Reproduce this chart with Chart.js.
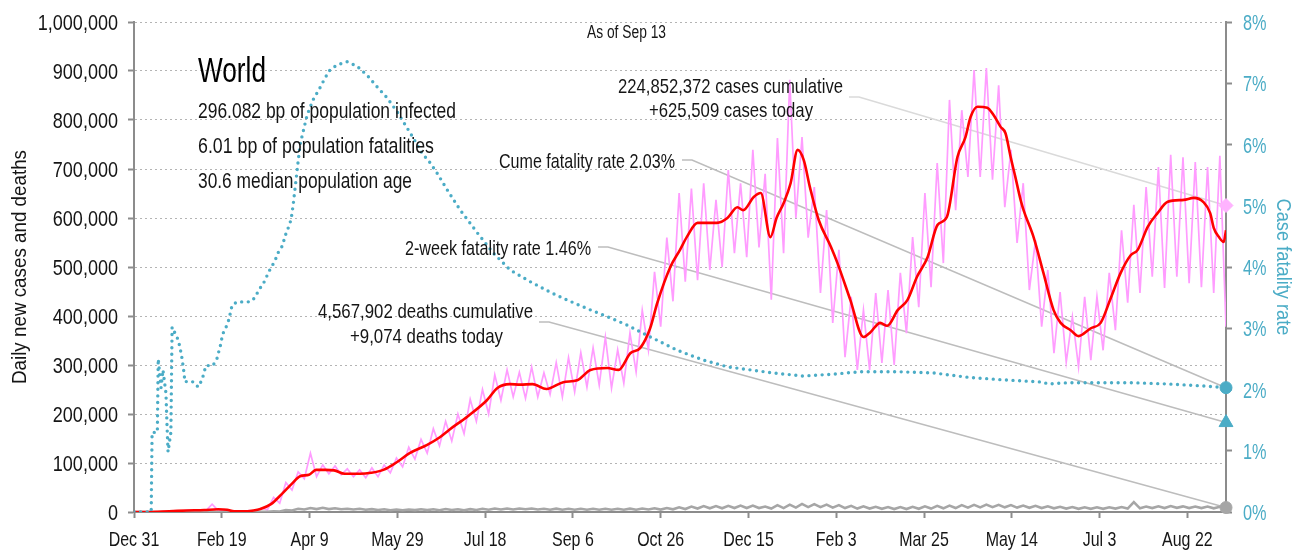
<!DOCTYPE html>
<html>
<head>
<meta charset="utf-8">
<script src="https://cdn.jsdelivr.net/npm/chart.js@4.4.1/dist/chart.umd.min.js"></script>
<style>
  html, body { margin: 0; padding: 0; background: #fff; }
  canvas { display: block; }
</style>
</head>
<body>
<canvas id="c" width="1299" height="550"></canvas>
<script>
// x axis = days since Dec 31, 2019; case/death values in thousands
const xTickDays = [0, 50, 100, 150, 200, 250, 300, 350, 400, 450, 500, 550, 600];
const xTickLabels = ['Dec 31', 'Feb 19', 'Apr 9', 'May 29', 'Jul 18', 'Sep 6', 'Oct 26',
  'Dec 15', 'Feb 3', 'Mar 25', 'May 14', 'Jul 3', 'Aug 22'];
const lastDay = 622;

// daily new cases: weekly high (day 7k+2.5) and low (day 7k+6)
const casesHigh = [0, 0, 1, 2.5, 3.5, 4, 16, 5, 2, 3, 8, 30, 60, 82, 120, 96, 94, 88, 86, 90,
  96, 110, 132, 148, 170, 185, 200, 230, 250, 280, 290, 285, 296, 284, 305, 315, 325, 335, 357, 331,
  365, 412, 490, 560, 651, 660, 671, 637, 698, 671, 739, 690, 763, 882, 765, 663, 616, 535, 439, 412,
  447, 453, 488, 561, 651, 712, 841, 820, 902, 906, 871, 739, 671, 555, 494, 449, 398, 439, 439, 488,
  575, 627, 663, 704, 729, 724, 714, 704, 727];
const casesLow = [0, 0, 0.5, 1.8, 2.8, 3, 3, 2.5, 1, 1.5, 4.5, 18, 45, 68, 72, 78, 76, 72, 70, 72,
  80, 92, 108, 120, 135, 145, 160, 185, 200, 228, 235, 232, 235, 240, 235, 245, 255, 259, 253, 263,
  286, 331, 378, 430, 470, 473, 494, 500, 528, 520, 540, 433, 528, 600, 560, 447, 386, 316, 290, 290,
  304, 300, 365, 418, 459, 508, 616, 684, 684, 678, 622, 549, 453, 378, 324, 306, 296, 310, 330, 371,
  427, 447, 480, 457, 480, 467, 459, 447, 378];

// 7-day average of new cases
const avgDays = [0, 7, 20, 30, 40, 48, 53, 57, 62, 68, 72, 78, 84, 90, 94.6, 99.7, 103.7, 108.9, 114, 120,
  128.8, 135, 142, 149, 157, 167, 174, 180, 190, 201, 207, 214, 220, 227, 235, 244.5, 252.5, 260, 269.6, 276,
  282.7, 288.4, 294, 298, 305.5, 311, 315, 321, 332, 338, 343.7, 347, 353, 357, 362.5, 366, 370, 374, 378, 381.5,
  385, 390, 397, 400.7, 408, 415.5, 419.5, 425, 429, 435, 440.6, 446, 452, 457.7, 463, 469, 473.6, 476.5, 480.5, 486,
  489.6, 493.6, 496.4, 499.3, 502, 505, 506.7, 512.4, 518, 523.8, 527.8, 533.5, 538, 545, 550.6, 556, 562, 567.7, 571.7, 577.4,
  583, 588.8, 598, 603.6, 609, 613, 615, 618, 620.7, 622];
const avgCases = [0, 0, 1.5, 3, 4, 5.5, 4.5, 1.5, 1.2, 3, 6, 16, 36, 58, 73, 76, 86, 86, 85, 78,
  78, 80, 86, 100, 120, 137, 152, 169, 195, 228, 253, 261, 260, 261, 251, 265, 269, 290, 294, 290,
  324, 335, 375, 426, 500, 535, 562, 590, 590, 600, 622, 616, 643, 651, 561, 600, 630, 671, 739, 718,
  663, 596, 541, 508, 433, 357, 367, 386, 380, 412, 433, 480, 520, 586, 602, 724, 765, 806, 827, 825,
  810, 786, 773, 725, 684, 637, 616, 561, 488, 412, 386, 371, 359, 375, 386, 433, 488, 524, 535, 582,
  610, 633, 637, 641, 633, 610, 580, 561, 551, 575];

// daily deaths: weekly high (day 7k+2.5) and low (day 7k+6)
const deathsHigh = [0, 0, 0.05, 0.05, 0.1, 0.1, 0.25, 0.15, 0.1, 0.2, 0.5, 1.5, 4, 6.5, 8, 8.5, 7.5, 6.5, 6.5, 5.8,
  5.5, 5, 5.2, 5.5, 5.5, 6, 5.5, 5.8, 6.5, 7, 7, 7, 7, 6.5, 6.8, 6.5, 6.5, 6.5, 6.5, 6.5,
  6.8, 7, 7.5, 8, 9.5, 11, 12, 12, 12.5, 13, 13, 11, 14, 15, 16.5, 16, 15, 14, 12.5, 11.5,
  10.5, 10, 10, 10.5, 11.5, 12.5, 13, 14, 14.5, 15, 14.5, 14, 13, 12.5, 11.5, 10.5, 10, 9.5, 9.5, 9.5,
  10, 20, 11, 11.5, 12, 11.5, 11, 11, 10.5];
const deathsLow = [0, 0, 0, 0.05, 0.05, 0.08, 0.1, 0.1, 0.05, 0.1, 0.3, 1, 3, 5, 6, 6, 5.5, 5, 4.5, 4,
  3.5, 3.5, 3.8, 3.8, 3.6, 4, 3.5, 4, 4.5, 5, 5, 5.5, 5.2, 4.5, 4.5, 4.5, 4.5, 4.5, 4.5, 4.5,
  4.5, 5, 5, 5.5, 6, 7, 7.5, 7.5, 8, 8, 8, 7, 8, 9, 10, 10, 9, 8, 7, 7,
  6.5, 6, 6, 6.5, 7, 7.5, 8, 9, 9.5, 10, 9.5, 9, 8.5, 8, 7.5, 7, 6.5, 6.5, 6.5, 7,
  7, 7.5, 8, 8, 8.5, 8, 8, 7.5, 9.074];

// case fatality rate, %
const cfrDays = [0, 9.8, 10.3, 13.3, 13.8, 15.4, 16.5, 18.2, 18.8, 19.4, 21, 21.7, 23.4, 25, 26.2, 27.4, 28.5, 29, 30.8, 34.2,
  36.5, 38.8, 39.9, 41, 42.7, 45, 47.3, 48.4, 49.6, 50.2, 51.3, 53, 54.1, 55.9, 58.7, 62.1, 65, 67.3, 69.5, 71.2,
  73, 74.7, 76.9, 78.7, 80.4, 82, 84.4, 86.6, 88.3, 89.5, 90.6, 92, 94.6, 98.6, 102, 106, 108.9, 111.7, 115.7, 121.4,
  127, 132.8, 138.5, 144.2, 150, 154.5, 159, 164, 168.7, 172.7, 178.4, 185.8, 195.5, 204.6, 214.3, 225.7, 237, 246.8, 259.9, 271.3,
  281, 294, 309.5, 324.3, 338, 351, 364, 381, 398, 413.8, 434.9, 455.4, 474.8, 493.6, 518, 520.4, 531.8, 550.6, 569.4, 588.8,
  607.6, 622];
const cfrRates = [0, 0, 1.3, 1.3, 2.5, 2.03, 2.32, 1.94, 1.42, 0.98, 1.3, 3.02, 2.92, 2.82, 2.69, 2.5, 2.27, 2.12, 2.14, 2.12,
  2.04, 2.16, 2.28, 2.39, 2.39, 2.39, 2.51, 2.63, 2.76, 2.87, 2.96, 3.05, 3.15, 3.38, 3.43, 3.43, 3.43, 3.45, 3.53, 3.64,
  3.69, 3.79, 3.93, 4.02, 4.11, 4.23, 4.34, 4.55, 4.67, 4.78, 5.0, 5.35, 6.0, 6.48, 6.73, 6.93, 7.09, 7.22, 7.30, 7.35,
  7.28, 7.13, 6.94, 6.76, 6.53, 6.32, 6.11, 5.86, 5.70, 5.53, 5.26, 4.93, 4.56, 4.23, 3.95, 3.76, 3.59, 3.46, 3.30, 3.17,
  3.05, 2.86, 2.64, 2.48, 2.37, 2.32, 2.27, 2.22, 2.25, 2.29, 2.29, 2.27, 2.20, 2.16, 2.12, 2.09, 2.11, 2.11, 2.11, 2.09,
  2.06, 2.03];

// latest-day markers
const casesToday = 625.509;
const deathsToday = 9.074;
const cumeCfr = 2.03;
const twoWeekCfr = 1.46;

const FONT = '"Liberation Sans", Arial, sans-serif';
const TEAL = '#4bacc6';
const PINK = '#ff9cff';
const INK = '#151515';

function weekly(high, low) {
  const pts = [{ x: 0, y: 0 }];
  high.forEach((h, k) => {
    pts.push({ x: 7 * k + 2.5, y: h });
    pts.push({ x: 7 * k + 6, y: low[k] });
  });
  return pts;
}
const pairs = (xs, ys) => xs.map((x, i) => ({ x, y: ys[i] }));

// condensed text: squeeze horizontally by sx, or fit to a width
function say(ctx, s, x, y, o) {
  ctx.save();
  ctx.font = (o.weight || '') + ' ' + o.size + 'px ' + FONT;
  ctx.fillStyle = o.color || INK;
  ctx.textAlign = o.align || 'left';
  ctx.textBaseline = o.base || 'alphabetic';
  let sx = o.sx || 0.8;
  if (o.width) sx = o.width / ctx.measureText(s).width;
  ctx.translate(x, y);
  if (o.rot) ctx.rotate(o.rot);
  ctx.scale(sx, 1);
  ctx.fillText(s, 0, 0);
  ctx.restore();
}

const yLabel = v => (v * 1000).toLocaleString('en-US');
const y2Label = v => v + '%';

const notes = {
  id: 'notes',
  beforeDatasetsDraw(chart) {
    const { ctx, scales } = chart;
    const ex = scales.x.getPixelForValue(lastDay);
    const leaders = [
      { from: [849, 97], to: scales.y.getPixelForValue(casesToday), color: '#dadada' },
      { from: [682, 160], to: scales.y2.getPixelForValue(cumeCfr), color: '#bdbdbd' },
      { from: [598, 247], to: scales.y2.getPixelForValue(twoWeekCfr), color: '#bdbdbd' },
      { from: [539, 322], to: scales.y.getPixelForValue(deathsToday), color: '#bdbdbd' }
    ];
    ctx.save();
    ctx.lineWidth = 1.6;
    leaders.forEach(l => {
      ctx.strokeStyle = l.color;
      ctx.beginPath();
      ctx.moveTo(l.from[0], l.from[1]);
      ctx.lineTo(l.from[0] + 10, l.from[1]);
      ctx.lineTo(ex, l.to);
      ctx.stroke();
    });
    ctx.restore();
  },
  afterDraw(chart) {
    const { ctx, scales, chartArea } = chart;
    // axis tick labels, placed from the library's ticks
    scales.y.ticks.forEach(t => {
      say(ctx, yLabel(t.value), chartArea.left - 16, scales.y.getPixelForValue(t.value) + 7.8,
        { size: 22, sx: 0.82, align: 'right' });
    });
    scales.y2.ticks.forEach(t => {
      say(ctx, y2Label(t.value), chartArea.right + 17, scales.y2.getPixelForValue(t.value) + 8,
        { size: 22, sx: 0.74, align: 'left', color: TEAL });
    });
    scales.x.ticks.forEach(t => {
      say(ctx, xTickLabels[xTickDays.indexOf(t.value)], scales.x.getPixelForValue(t.value), 546,
        { size: 21, sx: 0.76, align: 'center' });
    });
    // axis titles
    const midY = (chartArea.top + chartArea.bottom) / 2;
    say(ctx, 'Daily new cases and deaths', 20, midY, { size: 20, width: 234, align: 'center', base: 'middle', rot: -Math.PI / 2 });
    say(ctx, 'Case fatality rate', 1283, midY, { size: 21, width: 137, align: 'center', base: 'middle', rot: Math.PI / 2, color: TEAL });
    // annotations
    say(ctx, 'As of Sep 13', 626.5, 38, { size: 18, width: 79, align: 'center' });
    say(ctx, 'World', 198, 82, { size: 35, width: 68, color: '#000' });
    say(ctx, '296.082 bp of population infected', 198, 118, { size: 22, width: 258 });
    say(ctx, '6.01 bp of population fatalities', 198, 153, { size: 22, width: 236 });
    say(ctx, '30.6 median population age', 198, 188, { size: 22, width: 214 });
    say(ctx, '224,852,372 cases cumulative', 730.5, 93, { size: 21, width: 225, align: 'center' });
    say(ctx, '+625,509 cases today', 731, 117, { size: 21, width: 164, align: 'center' });
    say(ctx, 'Cume fatality rate 2.03%', 675, 168, { size: 21, width: 176, align: 'right' });
    say(ctx, '2-week fatality rate 1.46%', 591, 255, { size: 21, width: 186, align: 'right' });
    say(ctx, '4,567,902 deaths cumulative', 425.5, 318, { size: 21, width: 215, align: 'center' });
    say(ctx, '+9,074 deaths today', 426.5, 343, { size: 21, width: 153, align: 'center' });
  }
};

new Chart(document.getElementById('c'), {
  type: 'line',
  data: {
    datasets: [
      { type: 'scatter', data: [{ x: lastDay, y: casesToday }], yAxisID: 'y', pointStyle: 'rectRot',
        pointRadius: 7, backgroundColor: '#ffb3ff', borderColor: '#ffb3ff', clip: false },
      { type: 'scatter', data: [{ x: lastDay, y: cumeCfr }], yAxisID: 'y2', pointStyle: 'circle',
        pointRadius: 6, backgroundColor: TEAL, borderColor: TEAL, clip: false },
      { type: 'scatter', data: [{ x: lastDay, y: twoWeekCfr }], yAxisID: 'y2', pointStyle: 'triangle',
        pointRadius: 8, backgroundColor: TEAL, borderColor: TEAL, clip: false },
      { type: 'scatter', data: [{ x: lastDay, y: deathsToday }], yAxisID: 'y', pointStyle: 'circle',
        pointRadius: 6, backgroundColor: '#a6a6a6', borderColor: '#a6a6a6', clip: false },
      { data: pairs(cfrDays, cfrRates), yAxisID: 'y2', borderColor: TEAL, borderWidth: 3.4,
        borderDash: [0, 6.6], borderCapStyle: 'round', pointRadius: 0 },
      { data: pairs(avgDays, avgCases), yAxisID: 'y', borderColor: '#ff0000', borderWidth: 2.6,
        cubicInterpolationMode: 'monotone', pointRadius: 0 },
      { data: weekly(deathsHigh, deathsLow), yAxisID: 'y', borderColor: '#a6a6a6', borderWidth: 2.6,
        pointRadius: 0 },
      { data: weekly(casesHigh, casesLow), yAxisID: 'y', borderColor: PINK, borderWidth: 1.7,
        pointRadius: 0 }
    ]
  },
  options: {
    responsive: false,
    animation: false,
    devicePixelRatio: 1,
    layout: { padding: { top: 22, left: 0, right: 0, bottom: 0 } },
    plugins: { legend: { display: false }, tooltip: { enabled: false } },
    scales: {
      x: {
        type: 'linear', min: 0, max: lastDay,
        afterBuildTicks: s => { s.ticks = xTickDays.map(v => ({ value: v })); },
        afterFit: s => { s.height = 38; },
        ticks: { display: false },
        grid: { drawOnChartArea: false, tickLength: 6, tickColor: '#8c8c8c', tickWidth: 2 },
        border: { color: '#8c8c8c', width: 2 }
      },
      y: {
        position: 'left', min: 0, max: 1000,
        afterFit: s => { s.width = 134; },
        ticks: { stepSize: 100, display: false },
        grid: { color: '#b4b4b4', lineWidth: 1, tickLength: 6, tickColor: '#8c8c8c', tickWidth: 2 },
        border: { color: '#8c8c8c', width: 2, dash: [2, 3] }
      },
      y2: {
        position: 'right', min: 0, max: 8,
        afterFit: s => { s.width = 73; },
        ticks: { stepSize: 1, display: false },
        grid: { drawOnChartArea: false, tickLength: 6, tickColor: '#8c8c8c', tickWidth: 2 },
        border: { color: '#8c8c8c', width: 2 }
      }
    }
  },
  plugins: [notes]
});
</script>
</body>
</html>
